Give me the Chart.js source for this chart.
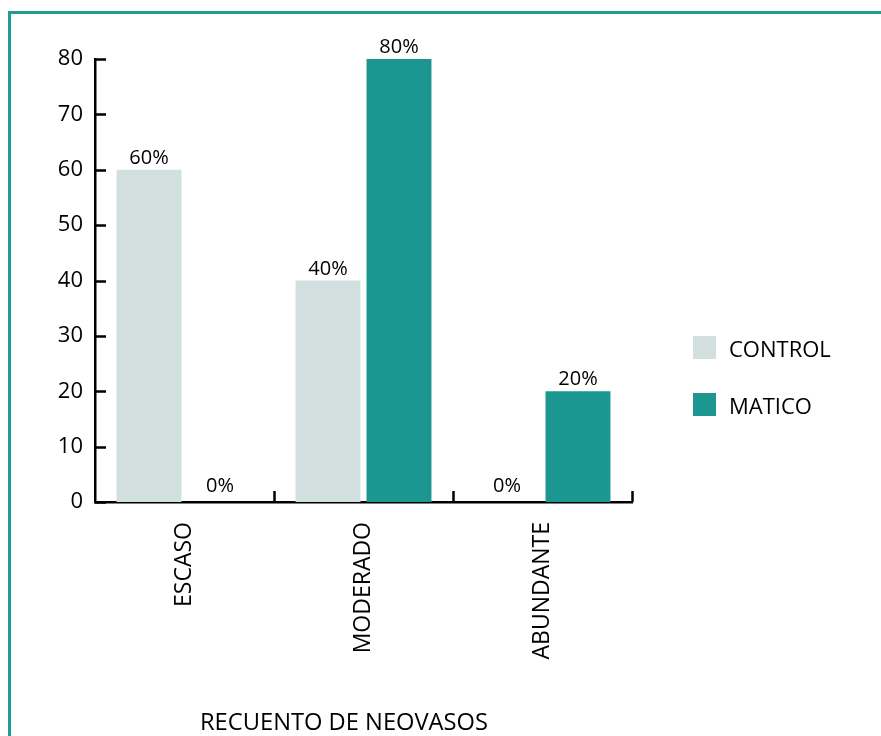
<!DOCTYPE html>
<html>
<head>
<meta charset="utf-8">
<script src="https://cdn.jsdelivr.net/npm/chart.js@4.4.0/dist/chart.umd.min.js"></script>
<style>
  html, body { margin: 0; padding: 0; background: #fff; }
  #wrap { position: relative; width: 881px; height: 736px; overflow: hidden; }
  #frame { position: absolute; left: 8px; top: 11px; width: 900px; height: 800px;
           border-top: 3px solid #1f9c94; border-left: 3px solid #1f9c94; }
  canvas { position: absolute; left: 0; top: 0; }
</style>
</head>
<body>
<div id="wrap">
  <div id="frame"></div>
  <canvas id="chart" width="881" height="736"></canvas>
</div>
<script>
const categories = ['ESCASO', 'MODERADO', 'ABUNDANTE'];
const seriesNames = ['CONTROL', 'MATICO'];
const controlValues = [60, 40, 0];
const maticoValues = [0, 80, 20];
const yMax = 80;
const yStep = 10;
const seriesColors = ['#d1e0df', '#1b9690'];
const axisTitle = 'RECUENTO DE NEOVASOS';

const FONT = '"Open Sans", "Noto Sans", sans-serif';
const INK = '#000';

// ticks inside the plot, value labels, legend and the axis title
const extras = {
  id: 'extras',
  afterDatasetsDraw(chart) {
    const ctx = chart.ctx;
    const x = chart.scales.x, y = chart.scales.y;
    const area = chart.chartArea;
    ctx.save();
    ctx.strokeStyle = INK;
    ctx.lineWidth = 2.5;
    // y ticks pointing right
    for (let v = 0; v <= yMax; v += yStep) {
      const py = Math.round(y.getPixelForValue(v)) + 0.5;
      ctx.beginPath();
      ctx.moveTo(area.left, py);
      ctx.lineTo(area.left + 11, py);
      ctx.stroke();
    }
    // x ticks pointing up at the group boundaries
    categories.forEach((c, i) => {
      const px = Math.round(x.getPixelForValue(i + 0.5)) + 0.5;
      ctx.beginPath();
      ctx.moveTo(px, area.bottom);
      ctx.lineTo(px, area.bottom - 11);
      ctx.stroke();
    });

    // percent labels over the bars
    ctx.fillStyle = INK;
    ctx.font = '20px ' + FONT;
    ctx.textAlign = 'center';
    ctx.textBaseline = 'alphabetic';
    chart.data.datasets.forEach((ds, di) => {
      chart.getDatasetMeta(di).data.forEach((bar, i) => {
        const gap = ds.data[i] === 0 ? 10 : 6;
        ctx.fillText(ds.data[i] + '%', bar.x, bar.y - gap);
      });
    });

    // legend
    ctx.font = '22px ' + FONT;
    ctx.textAlign = 'left';
    ctx.textBaseline = 'middle';
    seriesNames.forEach((name, i) => {
      const top = 336 + i * 57;
      ctx.fillStyle = seriesColors[i];
      ctx.fillRect(693, top, 23, 23);
      ctx.fillStyle = INK;
      ctx.fillText(name, 729, top + 15);
    });

    // axis title, condensed
    ctx.font = '24px ' + FONT;
    ctx.textAlign = 'left';
    ctx.textBaseline = 'alphabetic';
    const w = ctx.measureText(axisTitle).width;
    ctx.translate(200, 730);
    ctx.scale(288 / w, 1);
    ctx.fillText(axisTitle, 0, 0);
    ctx.restore();
  }
};

new Chart(document.getElementById('chart'), {
  type: 'bar',
  data: {
    labels: categories,
    datasets: [
      { label: seriesNames[0], data: controlValues, backgroundColor: seriesColors[0] },
      { label: seriesNames[1], data: maticoValues, backgroundColor: seriesColors[1] }
    ]
  },
  options: {
    responsive: false,
    animation: false,
    devicePixelRatio: 1,
    categoryPercentage: 0.793,
    barPercentage: 0.915,
    layout: { padding: { top: 59, right: 249, left: 0, bottom: 0 } },
    plugins: {
      legend: { display: false },
      tooltip: { enabled: false }
    },
    scales: {
      x: {
        grid: { display: false },
        border: { color: INK, width: 2.5 },
        ticks: {
          color: INK,
          font: { family: FONT, size: 23 },
          minRotation: 90,
          maxRotation: 90,
          padding: 12
        },
        afterFit(scale) { scale.height = 234; }
      },
      y: {
        min: 0,
        max: yMax,
        grid: { display: false },
        border: { color: INK, width: 2.5 },
        ticks: {
          stepSize: yStep,
          color: INK,
          font: { family: FONT, size: 22 },
          padding: 4
        },
        afterFit(scale) { scale.width = 95; }
      }
    }
  },
  plugins: [extras]
});
</script>
</body>
</html>
